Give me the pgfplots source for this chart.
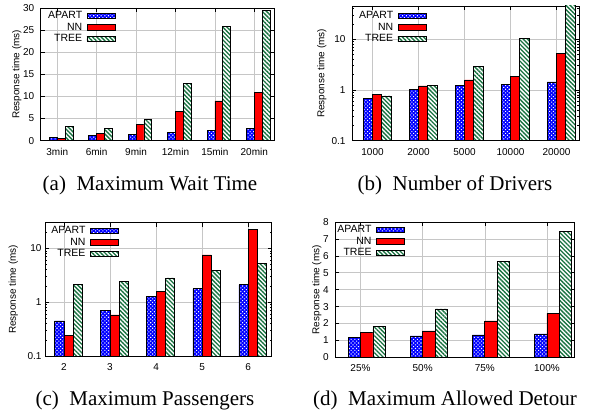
\documentclass[border=0pt]{standalone}
\usepackage{fontspec}
\setmainfont{Liberation Sans}
\newfontfamily\capfont{Liberation Serif}
\usepackage{pgfplots}
\usepackage{pgfplotstable}
\pgfplotsset{compat=1.18}
\usetikzlibrary{patterns.meta}

\definecolor{apartblue}{RGB}{0,0,255}
\definecolor{nnred}{RGB}{255,0,0}
\definecolor{treegreen}{RGB}{25,115,65}

\pgfplotstableread{
x a n t
0 0.83 0.60 3.3
1 1.28 1.58 2.86
2 1.50 3.70 4.9
3 1.96 6.70 13.0
4 2.30 9.00 25.9
5 2.70 11.0 29.5
}\tabA
\pgfplotstableread{
x a n t
0 0.685 0.82 0.76
1 1.03 1.20 1.24
2 1.25 1.57 2.88
3 1.29 1.88 10.5
4 1.44 5.27 50
}\tabB
\pgfplotstableread{
x a n t
0 0.45 0.237 2.16
1 0.71 0.58 2.39
2 1.26 1.58 2.83
3 1.77 7.57 3.87
4 2.10 22.1 5.3
}\tabC
\pgfplotstableread{
x a n t
0 1.16 1.48 1.83
1 1.26 1.56 2.86
2 1.32 2.15 5.69
3 1.38 2.60 7.43
}\tabD

\pgfplotsset{
  apart/.style={draw=black, line width=0.7bp, fill=apartblue,
    postaction={pattern={Dots[distance=2.6bp,radius=0.75bp,angle=45]}, pattern color=white}},
  nn/.style={draw=black, line width=0.7bp, fill=nnred},
  tree/.style={draw=black, line width=0.7bp, fill=white,
    postaction={pattern={Lines[angle=-45,distance=3bp,line width=1.35bp]}, pattern color=treegreen}},
  panel/.style={
    scale only axis, anchor=north west,
    ybar, bar width=0.2,
    xtick=data,
    tick align=inside,
    xmajorgrids, ymajorgrids,
    major grid style={gray!45, line width=0.6bp},
    axis line style={line width=0.8bp},
    every tick/.style={black, line width=0.6bp},
    major tick length=4bp, minor tick length=2bp,
    tick label style={font=\fontsize{10bp}{12bp}\selectfont},
    label style={font=\fontsize{10.5bp}{12bp}\selectfont},
    /pgf/number format/assume math mode=true,
    ylabel={Response time (ms)},
    x tick label style={anchor=base,yshift=-14.6bp},
    legend plot pos=right,
    legend cell align=right,
    legend image code/.code={\path (0bp,0bp); \draw[##1] (3bp,-2.8bp) rectangle (31bp,2.8bp);},
    legend style={draw=none, fill=none, anchor=north east, inner sep=0pt,
      nodes={inner sep=1.4bp}, font=\fontsize{10.5bp}{12bp}\selectfont},
  },
  ylab/.style={every axis y label/.style={at={(axis description cs:#1,0.5)},rotate=90,anchor=center}},
}

\begin{document}
\begin{tikzpicture}[x=1bp,y=1bp]
\useasboundingbox (0bp,0bp) rectangle (590bp,411bp);

% (a)
\begin{axis}[panel, at={(40.7bp,403bp)}, width=233.3bp, height=132.7bp,
  xmin=-0.42, xmax=5.5, ymin=0, ymax=30, ytick={0,5,...,30},
  xticklabels={3min,6min,9min,12min,15min,20min},
  y tick label style={xshift=-3bp},
  ylab=-0.1029,
  legend style={at={(axis description cs:0.3206,1)}, yshift=-1.9bp}]
\addplot[apart, bar shift=-0.1] table[x=x,y=a]{\tabA};
\addplot[nn, bar shift=0.1] table[x=x,y=n]{\tabA};
\addplot[tree, bar shift=0.3] table[x=x,y=t]{\tabA};
\legend{APART,NN,TREE}
\end{axis}

% (b)
\begin{axis}[panel, at={(352.3bp,405bp)}, width=226.7bp, height=134.7bp,
  xmin=-0.44, xmax=4.49, ymode=log, log origin=infty, ymin=0.1, ymax=45,
  ytick={0.1,1,10}, yticklabels={0.1,1,10},
  minor ytick={0.2,0.3,0.4,0.5,0.6,0.7,0.8,0.9,2,3,4,5,6,7,8,9,20,30,40},
  xticklabels={1000,2000,5000,10000,20000},
  y tick label style={xshift=-3.3bp},
  ylab=-0.135,
  legend style={at={(axis description cs:0.3273,1)}, yshift=-3.9bp}]
\addplot[apart, bar shift=-0.1] table[x=x,y=a]{\tabB};
\addplot[nn, bar shift=0.1] table[x=x,y=n]{\tabB};
\addplot[tree, bar shift=0.3] table[x=x,y=t]{\tabB};
\legend{APART,NN,TREE}
\end{axis}

% (c)
\begin{axis}[panel, at={(45bp,188.3bp)}, width=226.7bp, height=133.3bp,
  xmin=-0.41, xmax=4.51, ymode=log, log origin=infty, ymin=0.1, ymax=30,
  ytick={0.1,1,10}, yticklabels={0.1,1,10},
  minor ytick={0.2,0.3,0.4,0.5,0.6,0.7,0.8,0.9,2,3,4,5,6,7,8,9,20},
  xticklabels={2,3,4,5,6},
  y tick label style={xshift=0bp},
  ylab=-0.1398,
  legend style={at={(axis description cs:0.3255,1)}, yshift=-2.2bp}]
\addplot[apart, bar shift=-0.1] table[x=x,y=a]{\tabC};
\addplot[nn, bar shift=0.1] table[x=x,y=n]{\tabC};
\addplot[tree, bar shift=0.3] table[x=x,y=t]{\tabC};
\legend{APART,NN,TREE}
\end{axis}

% (d)
\begin{axis}[panel, at={(335bp,189bp)}, width=239.3bp, height=135.3bp,
  xmin=-0.41, xmax=3.44, ymin=0, ymax=8, ytick={0,1,...,8},
  xticklabels={25\%,50\%,75\%,100\%},
  y tick label style={xshift=-2.7bp},
  ylab=-0.0765,
  legend style={at={(axis description cs:0.2917,1)}, yshift=-1.9bp}]
\addplot[apart, bar shift=-0.1] table[x=x,y=a]{\tabD};
\addplot[nn, bar shift=0.1] table[x=x,y=n]{\tabD};
\addplot[tree, bar shift=0.3] table[x=x,y=t]{\tabD};
\legend{APART,NN,TREE}
\end{axis}

% captions
\begin{scope}[every node/.style={font=\capfont\fontsize{21bp}{24bp}\selectfont, anchor=base, inner sep=0pt}]
\node at (150bp,220.7bp) {(a)\hspace{0.5em}Maximum Wait Time};
\node at (455bp,220.7bp) {(b)\hspace{0.5em}Number of Drivers};
\node at (145bp,5.6bp) {(c)\hspace{0.5em}Maximum Passengers};
\node at (445bp,5.6bp) {(d)\hspace{0.5em}Maximum Allowed Detour};
\end{scope}
\end{tikzpicture}
\end{document}
